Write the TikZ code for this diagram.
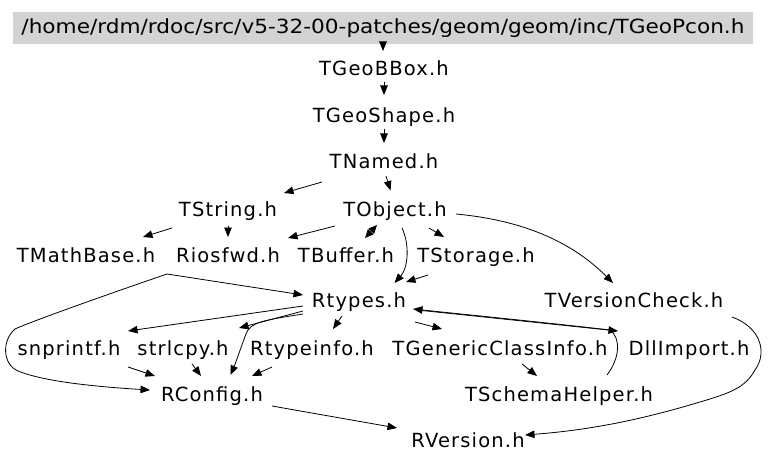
\documentclass[tikz,border=0pt]{standalone}
\usepackage{fontspec}
\setmainfont{DejaVu Sans}[LetterSpace=6]
\newfontfamily\pathfont{DejaVu Sans}
\usetikzlibrary{arrows.meta}
\definecolor{boxgray}{RGB}{211,211,211}
\tikzset{
  lbl/.style={font=\fontsize{19.5}{22}\selectfont, inner sep=0pt, anchor=base},
  arr/.style={draw, line width=0.8pt, -{Triangle[length=9.5pt,width=7.5pt]}},
  dbl/.style={draw, line width=0.8pt, {Triangle[length=8.5pt,width=7.5pt]}-{Triangle[length=8.5pt,width=7.5pt]}}
}
\begin{document}
\begin{tikzpicture}[x=1pt,y=-1pt]
\path[use as bounding box] (0,0) rectangle (768,465);
% nodes
\node[fill=boxgray, minimum width=740pt, minimum height=32pt, inner sep=0pt] (pcon) at (383,28)
  {\resizebox{723pt}{\height}{\pathfont\fontsize{19.5}{22}\selectfont /home/rdm/rdoc/src/v5-32-00-patches/geom/geom/inc/TGeoPcon.h}};
\node[lbl] (bbox) at (384,76) {TGeoBBox.h};
\node[lbl] (shape) at (384,123) {TGeoShape.h};
\node[lbl] (named) at (384,169) {TNamed.h};
\node[lbl] (tstring) at (228,216) {TString.h};
\node[lbl] (tobject) at (395,216) {TObject.h};
\node[lbl] (tmath) at (86,262) {TMathBase.h};
\node[lbl] (riosfwd) at (228,262) {Riosfwd.h};
\node[lbl] (tbuffer) at (346,262) {TBuffer.h};
\node[lbl] (tstorage) at (476,262) {TStorage.h};
\node[lbl] (rtypes) at (359,307) {Rtypes.h};
\node[lbl] (tvcheck) at (634,307) {TVersionCheck.h};
\node[lbl] (snprintf) at (69,355) {snprintf.h};
\node[lbl] (strlcpy) at (183,355) {strlcpy.h};
\node[lbl] (rtypeinfo) at (312,355) {Rtypeinfo.h};
\node[lbl] (tgci) at (500,355) {TGenericClassInfo.h};
\node[lbl] (dllimport) at (689,355) {DllImport.h};
\node[lbl] (rconfig) at (212,401) {RConfig.h};
\node[lbl] (tschema) at (559,401) {TSchemaHelper.h};
\node[lbl] (rversion) at (468,447) {RVersion.h};
% edges
\draw[arr] (pcon.south) -- ([shift={(-1,-25)}]bbox.base);
\draw[arr] ([shift={(0,6)}]bbox.base) -- ([shift={(0,-28)}]shape.base);
\draw[arr] ([shift={(0,6)}]shape.base) -- ([shift={(0,-26)}]named.base);
\draw[arr] ([shift={(-62,13)}]named.base) -- ([shift={(56,-23)}]tstring.base);
\draw[arr] ([shift={(2,7)}]named.base) -- ([shift={(-4.5,-25.5)}]tobject.base);
\draw[arr] ([shift={(-56,12)}]tstring.base) -- ([shift={(57,-25)}]tmath.base);
\draw[arr] ([shift={(0,10)}]tstring.base) -- ([shift={(0,-25)}]riosfwd.base);
\draw[arr] ([shift={(-60,10)}]tobject.base) -- ([shift={(60,-24)}]riosfwd.base);
\draw[dbl] ([shift={(-18,9)}]tobject.base) -- ([shift={(19,-24)}]tbuffer.base);
\draw[arr] ([shift={(34,12)}]tobject.base) -- ([shift={(-32,-25)}]tstorage.base);
\draw[arr] ([shift={(7,12)}]tobject.base) .. controls ([shift={(15,29)}]tobject.base) and ([shift={(49,-39)}]rtypes.base) .. ([shift={(35.5,-24)}]rtypes.base);
\draw[arr] ([shift={(61,-2)}]tobject.base) .. controls ([shift={(125,4)}]tobject.base) and ([shift={(-64,-67)}]tvcheck.base) .. ([shift={(-21,-24)}]tvcheck.base);
\draw[arr] ([shift={(-48,13)}]tstorage.base) -- ([shift={(47,-25)}]rtypes.base);
\draw[arr] ([shift={(81,12)}]tmath.base) -- ([shift={(-56,-12)}]rtypes.base);
\draw[arr] ([shift={(81,12)}]tmath.base) .. controls ([shift={(14,35)}]tmath.base) and ([shift={(-56,60)}]tmath.base) .. ([shift={(-71,67)}]tmath.base)
  .. controls ([shift={(-84,78)}]tmath.base) and ([shift={(-210,-37)}]rconfig.base) .. ([shift={(-194,-30)}]rconfig.base)
  .. controls ([shift={(-167,-19)}]rconfig.base) and ([shift={(-112,-14)}]rconfig.base) .. ([shift={(-62,-11)}]rconfig.base);
\draw[arr] ([shift={(-56,-1)}]rtypes.base) -- ([shift={(59,-24)}]snprintf.base);
\draw[arr] ([shift={(-56,4)}]rtypes.base) -- ([shift={(56,-27)}]strlcpy.base);
\draw[arr] ([shift={(-56,7)}]rtypes.base) .. controls ([shift={(-94,13)}]rtypes.base) and ([shift={(-109,15)}]rtypes.base) .. ([shift={(34,-67)}]rconfig.base)
  .. controls ([shift={(28,-51)}]rconfig.base) and ([shift={(24,-39)}]rconfig.base) .. ([shift={(18.5,-26)}]rconfig.base);
\draw[arr] ([shift={(-17,9)}]rtypes.base) -- ([shift={(21,-26)}]rtypeinfo.base);
\draw[arr] ([shift={(56,15)}]rtypes.base) -- ([shift={(-58,-26)}]tgci.base);
\draw[arr] ([shift={(58,3)}]rtypes.base) -- ([shift={(-71,-24)}]dllimport.base);
\draw[arr] ([shift={(48,-26)}]tschema.base) .. controls ([shift={(61,-43)}]tschema.base) and ([shift={(-68,-17)}]dllimport.base) .. ([shift={(-79,-25)}]dllimport.base)
  .. controls ([shift={(191,16)}]rtypes.base) and ([shift={(111,8)}]rtypes.base) .. ([shift={(54,2)}]rtypes.base);
\draw[arr] ([shift={(22,9)}]tgci.base) -- ([shift={(-22,-25)}]tschema.base);
\draw[arr] ([shift={(98,10)}]tvcheck.base) .. controls ([shift={(126,20)}]tvcheck.base) and ([shift={(134,45)}]tvcheck.base) .. ([shift={(121,63)}]tvcheck.base)
  .. controls ([shift={(277,-59)}]rversion.base) and ([shift={(262,-54)}]rversion.base) .. ([shift={(232,-45)}]rversion.base)
  .. controls ([shift={(172,-27)}]rversion.base) and ([shift={(122,-17)}]rversion.base) .. ([shift={(57,-12)}]rversion.base);
\draw[arr] ([shift={(59,12)}]snprintf.base) -- ([shift={(-57,-25)}]rconfig.base);
\draw[arr] ([shift={(9,9)}]strlcpy.base) -- ([shift={(-11,-25)}]rconfig.base);
\draw[arr] ([shift={(-40,12)}]rtypeinfo.base) -- ([shift={(40,-25)}]rconfig.base);
\draw[arr] ([shift={(60,5)}]rconfig.base) -- ([shift={(-71,-19)}]rversion.base);
\end{tikzpicture}
\end{document}
